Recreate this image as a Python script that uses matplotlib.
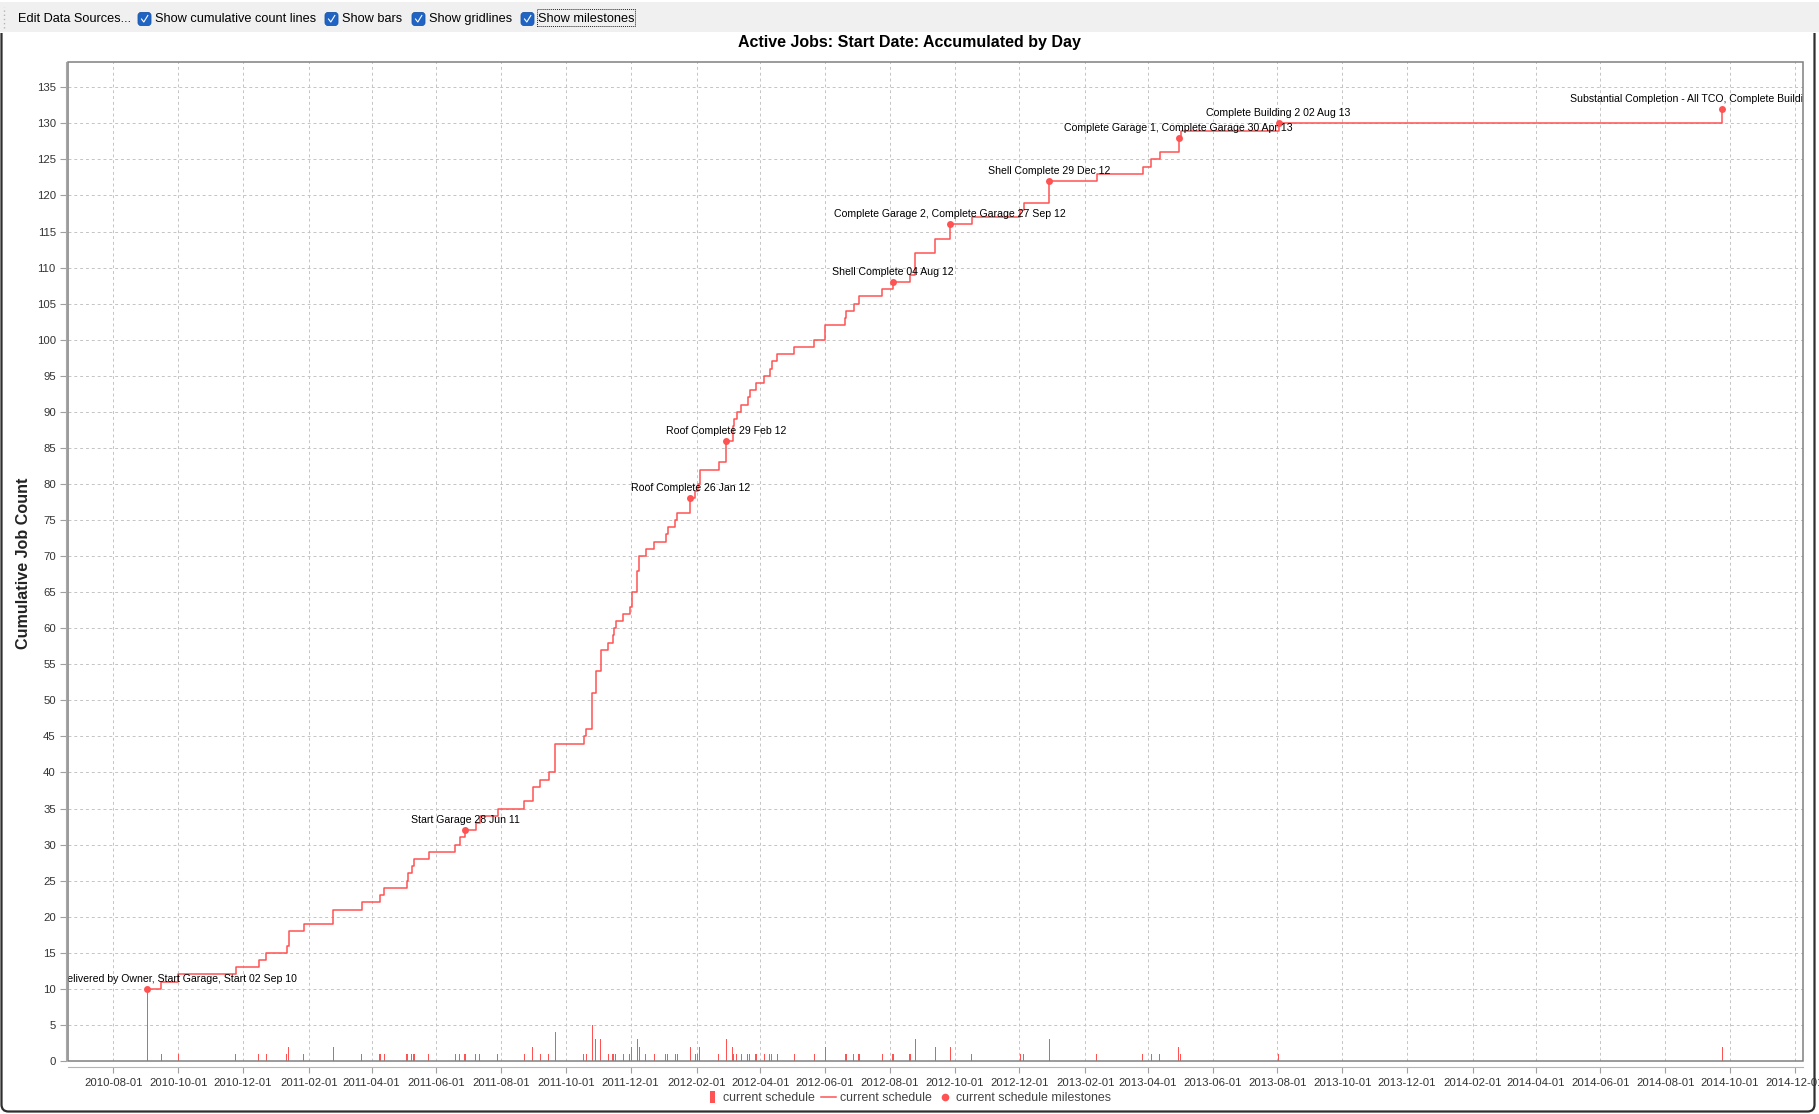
import numpy as np
import matplotlib
matplotlib.use("Agg")
import matplotlib.pyplot as plt
import matplotlib.dates as mdates
from matplotlib.lines import Line2D
from matplotlib.patches import Rectangle, FancyBboxPatch, PathPatch
from matplotlib.path import Path
from matplotlib.transforms import IdentityTransform

# jobs started per day (bars); the cumulative line is their running sum
start_dates = [
    "2010-09-02", "2010-09-15", "2010-10-01", "2010-11-24", "2010-12-16", "2010-12-23",
    "2011-01-11", "2011-01-13", "2011-01-27", "2011-02-24", "2011-03-23", "2011-04-09",
    "2011-04-13", "2011-05-04", "2011-05-05", "2011-05-09", "2011-05-11", "2011-05-25",
    "2011-06-19", "2011-06-23", "2011-06-28", "2011-07-08", "2011-07-12", "2011-07-29",
    "2011-08-23", "2011-08-31", "2011-09-07", "2011-09-15", "2011-09-21", "2011-10-18",
    "2011-10-20", "2011-10-26", "2011-10-29", "2011-11-03", "2011-11-10", "2011-11-14",
    "2011-11-15", "2011-11-17", "2011-11-24", "2011-11-30", "2011-12-02", "2011-12-07",
    "2011-12-09", "2011-12-15", "2011-12-23", "2012-01-03", "2012-01-05", "2012-01-12",
    "2012-01-14", "2012-01-26", "2012-01-31", "2012-02-02", "2012-02-04", "2012-02-22",
    "2012-02-29", "2012-03-06", "2012-03-07", "2012-03-10", "2012-03-14", "2012-03-20",
    "2012-03-22", "2012-03-28", "2012-04-05", "2012-04-10", "2012-04-12", "2012-04-17",
    "2012-05-03", "2012-05-22", "2012-06-01", "2012-06-20", "2012-06-21", "2012-06-28",
    "2012-07-03", "2012-07-25", "2012-08-04", "2012-08-20", "2012-08-25", "2012-09-13",
    "2012-09-27", "2012-10-17", "2012-12-02", "2012-12-05", "2012-12-29", "2013-02-12",
    "2013-03-27", "2013-04-04", "2013-04-12", "2013-04-30", "2013-05-02", "2013-08-02",
    "2014-09-24",
]
start_counts = [
    10, 1, 1, 1, 1, 1,
    1, 2, 1, 2, 1, 1,
    1, 1, 1, 1, 1, 1,
    1, 1, 1, 1, 1, 1,
    1, 2, 1, 1, 4, 1,
    1, 5, 3, 3, 1, 1,
    1, 1, 1, 1, 2, 3,
    2, 1, 1, 1, 1, 1,
    1, 2, 1, 1, 2, 1,
    3, 2, 1, 1, 1, 1,
    1, 1, 1, 1, 1, 1,
    1, 1, 2, 1, 1, 1,
    1, 1, 1, 1, 3, 2,
    2, 1, 1, 1, 3, 1,
    1, 1, 1, 2, 1, 1,
    2,
]

milestone_dates = [
    "2010-09-02", "2011-06-28", "2012-01-26", "2012-02-29", "2012-08-04",
    "2012-09-27", "2012-12-29", "2013-04-30", "2013-08-02", "2014-09-24",
]
milestone_labels = [
    "Building Site Delivered by Owner, Start Garage, Start 02 Sep 10",
    "Start Garage 28 Jun 11",
    "Roof Complete 26 Jan 12",
    "Roof Complete 29 Feb 12",
    "Shell Complete 04 Aug 12",
    "Complete Garage 2, Complete Garage 27 Sep 12",
    "Shell Complete 29 Dec 12",
    "Complete Garage 1, Complete Garage 30 Apr 13",
    "Complete Building 2 02 Aug 13",
    "Substantial Completion - All TCO, Complete Building 1 24 Sep 14",
]

toolbar_items = ["Show cumulative count lines", "Show bars", "Show gridlines", "Show milestones"]

W, H = 1819, 1114
RED = "#ff5252"
plt.rcParams["font.family"] = ["Liberation Sans", "DejaVu Sans"]

fig = plt.figure(figsize=(W / 100, H / 100), dpi=100)
px = IdentityTransform()


def top(y):
    return H - y


# ---- toolbar strip ----
fig.add_artist(Rectangle((0, top(32)), W, 30, transform=px, facecolor="#f0f0f0",
                         edgecolor="none", zorder=0))
fig.add_artist(Line2D([4, 4], [top(28), top(7)], transform=px, color="#b5b5b5",
                      lw=1.0, linestyle=(0, (1, 2))))
fig.text(18, top(19), "Edit Data Sources...", transform=px, fontsize=9.2,
         va="center", ha="left", color="#000000")
box_x = [138, 325, 412, 521]
text_x = [155, 342, 429, 538]
for bx, tx, label in zip(box_x, text_x, toolbar_items):
    fig.add_artist(FancyBboxPatch((bx, top(25.5)), 13, 13, transform=px,
                                  boxstyle="round,pad=0,rounding_size=3",
                                  facecolor="#1f63c4", edgecolor="#1a55a8", lw=0.6))
    fig.add_artist(Line2D([bx + 3.5, bx + 5.8, bx + 9.8], [top(19), top(22), top(15.5)],
                          transform=px, color="white", lw=0.8))
    fig.text(tx, top(19), label, transform=px, fontsize=9.2, va="center",
             ha="left", color="#000000")
fig.add_artist(Rectangle((536.5, top(26)), 98, 17, transform=px, facecolor="none",
                         edgecolor="#222222", lw=0.7, linestyle=(0, (1, 1))))

# ---- window frame ----
r = 7
frame_path = Path(
    [(1.5, top(33)), (1.5, top(1111.5 - r)), (1.5, top(1111.5)), (1.5 + r, top(1111.5)),
     (1814.5 - r, top(1111.5)), (1814.5, top(1111.5)), (1814.5, top(1111.5 - r)),
     (1814.5, top(33))],
    [Path.MOVETO, Path.LINETO, Path.CURVE3, Path.CURVE3, Path.LINETO, Path.CURVE3,
     Path.CURVE3, Path.LINETO])
fig.add_artist(PathPatch(frame_path, transform=px, facecolor="none",
                         edgecolor="#2e2e2e", lw=1.6))

# ---- chart ----
ax = fig.add_axes([68.3 / W, 1 - 1061 / H, (1803 - 68.3) / W, (1061 - 62) / H])

x = mdates.date2num(np.array(start_dates, dtype="datetime64[D]"))
counts = np.array(start_counts)
cum = np.cumsum(counts)

ax.bar(x, counts, width=1.0, color=RED, linewidth=0, zorder=2)
ax.step(x, cum, where="post", color=RED, lw=1.1, zorder=3)

mx = mdates.date2num(np.array(milestone_dates, dtype="datetime64[D]"))
my = cum[np.searchsorted(x, mx, side="right") - 1]
ax.plot(mx, my, "o", color=RED, ms=5, mew=0, zorder=4)
for xm, ym, label in zip(mx, my, milestone_labels):
    ax.annotate(label, (xm, ym), xytext=(0, 5), textcoords="offset pixels",
                ha="center", va="bottom", fontsize=7.6, color="#000000",
                clip_on=True, annotation_clip=False, zorder=5)

tick_dates = np.arange(np.datetime64("2010-08"), np.datetime64("2015-01"),
                       np.timedelta64(2, "M")).astype("datetime64[D]")
ax.set_xticks(mdates.date2num(tick_dates))
ax.xaxis.set_major_formatter(mdates.DateFormatter("%Y-%m-%d"))
ax.set_yticks(range(0, 136, 5))
ax.set_xlim(mdates.date2num(np.datetime64("2010-06-19")) + 0.5,
            mdates.date2num(np.datetime64("2014-12-08")) + 0.8)
ax.set_ylim(0, 138.5)

ax.grid(True, color="#c4c4c4", lw=0.7, linestyle=(0, (3, 3)))
ax.set_axisbelow(True)
ax.tick_params(axis="both", length=4, width=0.8, color="#a0a0a0",
               labelsize=8.2, labelcolor="#333333")
ax.tick_params(axis="x", pad=4)
ax.tick_params(axis="y", pad=3)

for side in ["top", "right"]:
    ax.spines[side].set_visible(False)
ax.spines["left"].set_position(("outward", 2))
ax.spines["bottom"].set_position(("outward", 4))
ax.spines["left"].set_color("#a8a8a8")
ax.spines["bottom"].set_color("#b4b4b4")
ax.add_patch(Rectangle((0, 0), 1, 1, transform=ax.transAxes, facecolor="none",
                       edgecolor="#808080", lw=1.1, clip_on=False, zorder=6))

fig.text(0.5, 1 - 42 / H, "Active Jobs: Start Date: Accumulated by Day",
         ha="center", va="center", fontsize=11.5, weight="bold")
fig.text(24 / W, 1 - 563 / H, "Cumulative Job Count", rotation=90,
         ha="center", va="center", fontsize=11.6, weight="bold", color="#222222")

bar_marker = [(-0.2, -0.5), (0.2, -0.5), (0.2, 0.5), (-0.2, 0.5), (-0.2, -0.5)]
handles = [
    Line2D([], [], marker=bar_marker, linestyle="none", color=RED, ms=9, mew=0),
    Line2D([], [], color=RED, lw=1.1),
    Line2D([], [], marker="o", linestyle="none", color=RED, ms=5.5, mew=0),
]
labels = ["current schedule", "current schedule", "current schedule milestones"]
fig.legend(handles, labels, loc="center", bbox_to_anchor=(908 / W, 1 - 1098 / H),
           ncol=3, frameon=False, fontsize=8.9, handlelength=1.2,
           handletextpad=0.3, columnspacing=0.5, labelcolor="#444444", borderpad=0)

fig.savefig("out.png", dpi=100)
